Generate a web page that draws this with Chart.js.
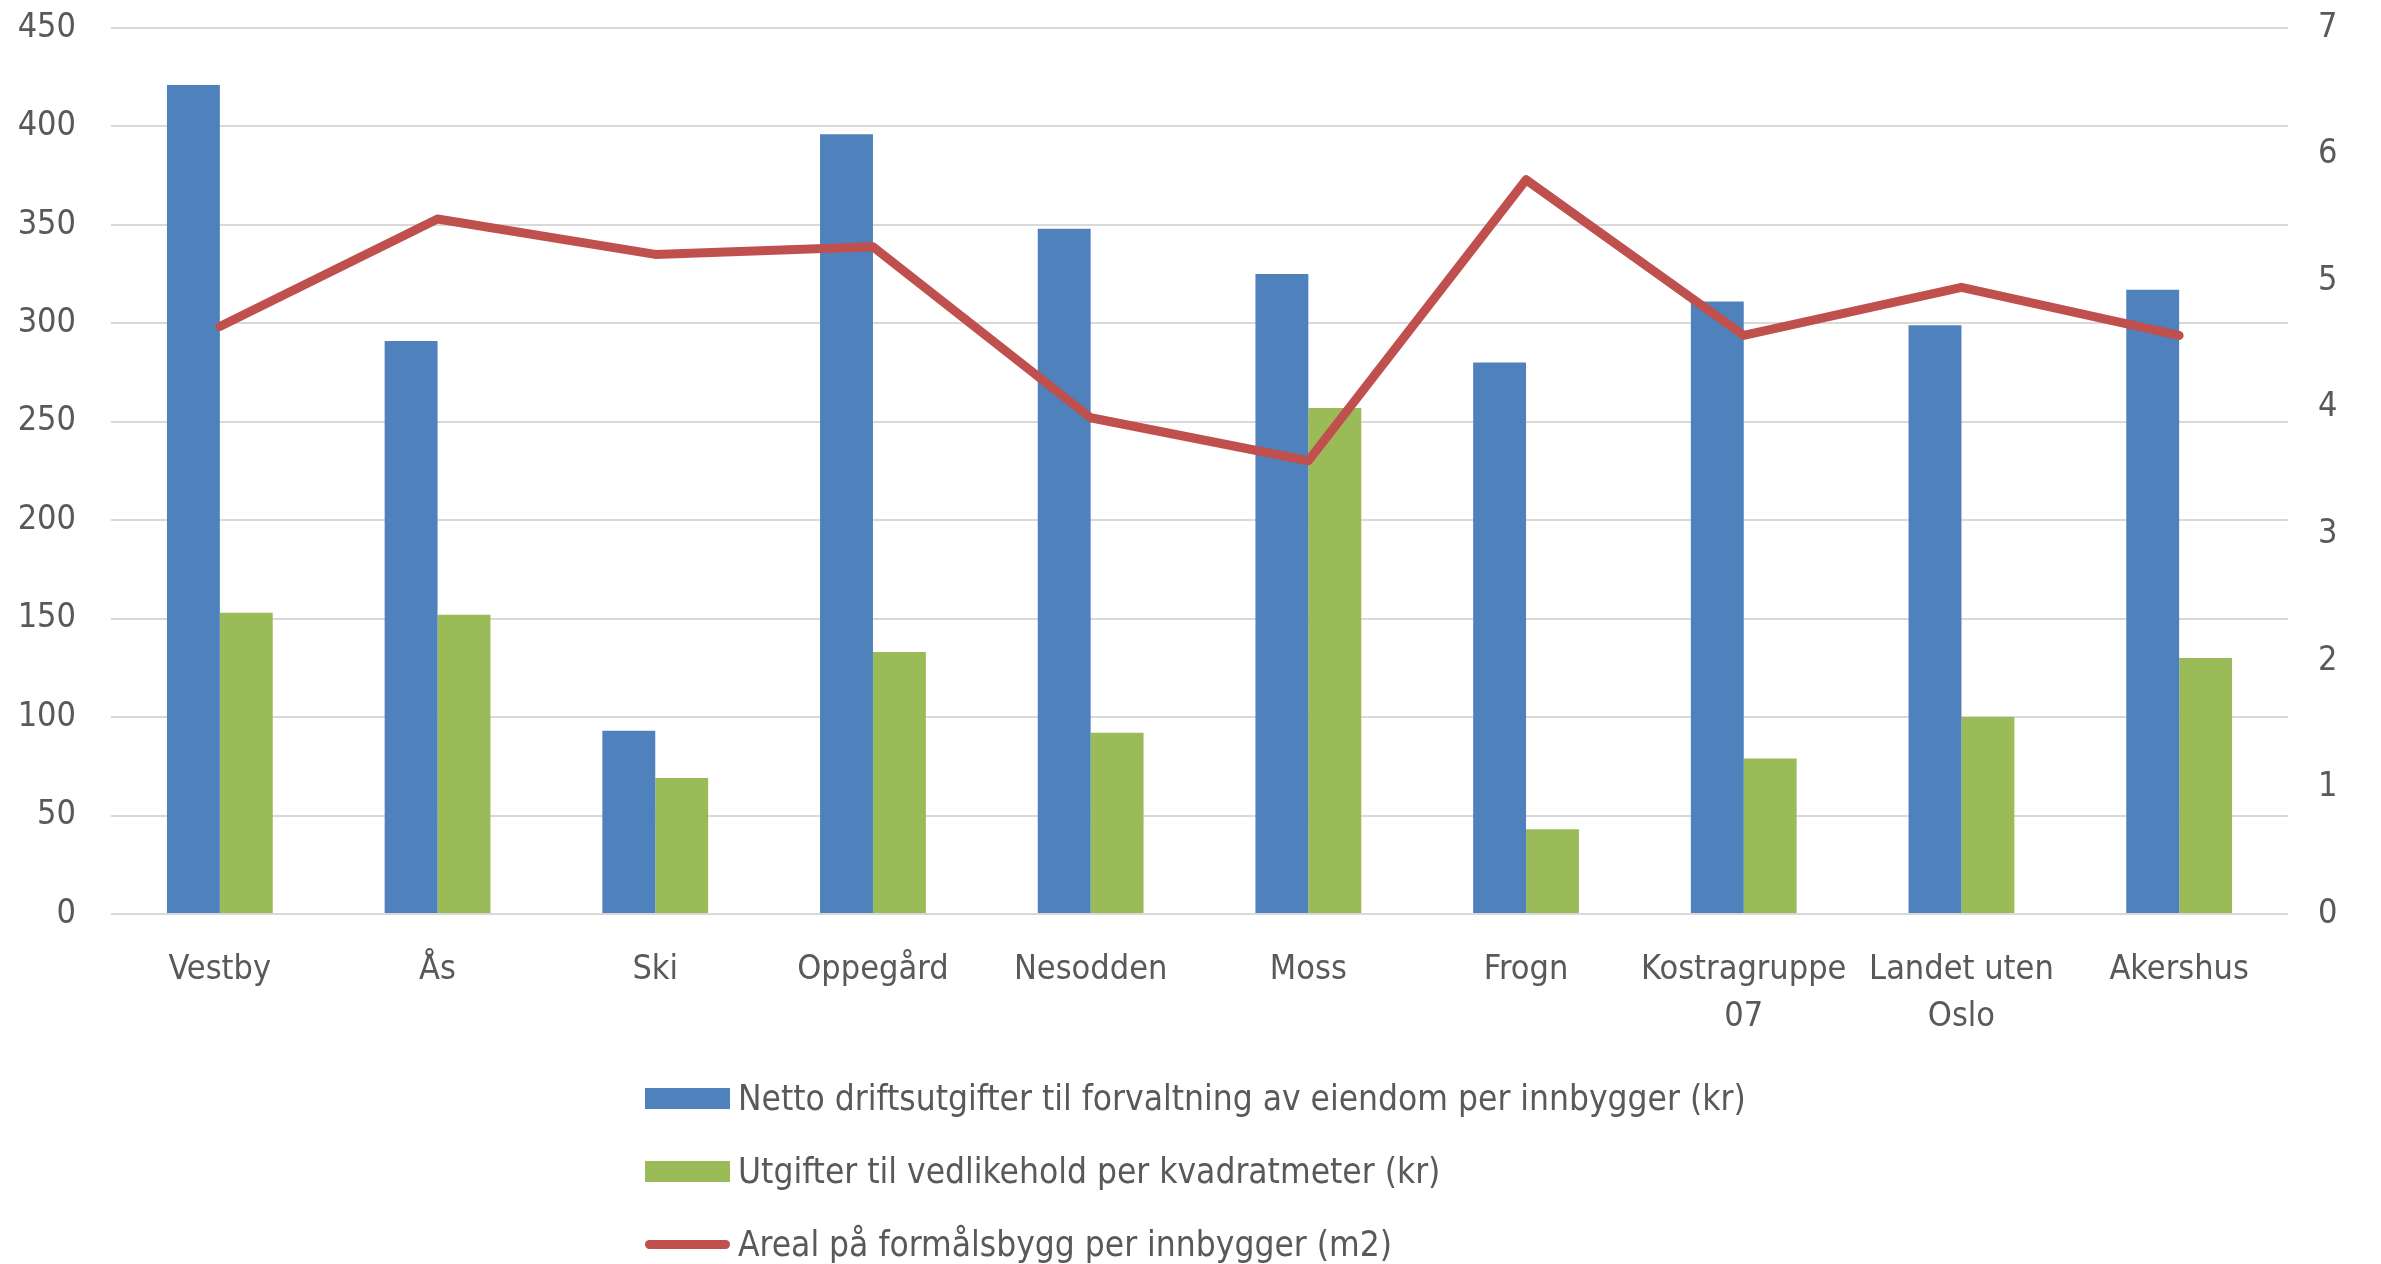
<!DOCTYPE html>
<html>
<head>
<meta charset="utf-8">
<script src="https://cdn.jsdelivr.net/npm/chart.js@4/dist/chart.umd.min.js"></script>
<style>
  body { margin: 0; background: #fff; }
  .wrap { position: relative; width: 2381px; height: 1264px; overflow: hidden; }
  .plot { position: absolute; left: 0; top: -31px; width: 2381px; height: 1295px; }
  .legend { position: absolute; left: 645px; top: 1075px; font-family: 'Liberation Sans Narrow', 'DejaVu Sans Condensed', sans-serif; font-size: 35px; color: #595959; }
  .legend div { display: flex; align-items: center; height: 46px; margin-bottom: 27px; white-space: nowrap; }
  .legend span.key { display: inline-block; width: 85px; margin-right: 8px; }
</style>
</head>
<body>
<div class="wrap">
  <div class="plot"><canvas id="myChart"></canvas></div>
  <div class="legend" id="legend"></div>
</div>
<script>
const categories = ['Vestby', 'Ås', 'Ski', 'Oppegård', 'Nesodden', 'Moss', 'Frogn', ['Kostragruppe', '07'], ['Landet uten', 'Oslo'], 'Akershus'];
const driftsutgifter = [421, 291, 93, 396, 348, 325, 280, 311, 299, 317];
const vedlikehold = [153, 152, 69, 133, 92, 257, 43, 79, 100, 130];
const areal = [4.64, 5.49, 5.21, 5.27, 3.92, 3.58, 5.80, 4.57, 4.95, 4.57];
const leftTicks = { min: 0, max: 450, step: 50 };
const rightTicks = { min: 0, max: 7, step: 1 };

const font = { family: "'Liberation Sans Narrow', 'DejaVu Sans Condensed', sans-serif", size: 34, lineHeight: 1.4 };
Chart.defaults.font = font;
Chart.defaults.color = '#595959';

const chart = new Chart(document.getElementById('myChart'), {
    type: 'bar',
    data: {
        labels: categories,
        datasets: [
            {
                label: 'Netto driftsutgifter til forvaltning av eiendom per innbygger (kr)',
                data: driftsutgifter,
                backgroundColor: '#4F81BD',
                yAxisID: 'y',
                order: 1
            },
            {
                label: 'Utgifter til vedlikehold per kvadratmeter (kr)',
                data: vedlikehold,
                backgroundColor: '#9BBB59',
                yAxisID: 'y',
                order: 1
            },
            {
                type: 'line',
                label: 'Areal på formålsbygg per innbygger (m2)',
                data: areal,
                borderColor: '#C0504D',
                backgroundColor: '#C0504D',
                borderWidth: 9,
                borderCapStyle: 'round',
                borderJoinStyle: 'round',
                pointRadius: 0,
                tension: 0,
                yAxisID: 'y1',
                order: 0
            }
        ]
    },
    options: {
        responsive: true,
        maintainAspectRatio: false,
        animation: false,
        layout: { padding: 0 },
        datasets: { bar: { categoryPercentage: 0.486, barPercentage: 1 } },
        plugins: { legend: { display: false }, tooltip: { enabled: false } },
        scales: {
            x: {
                grid: { display: false },
                border: { display: false },
                ticks: { padding: 24, maxRotation: 0, autoSkip: false },
                afterFit: (s) => { s.height = 350; }
            },
            y: {
                position: 'left',
                min: leftTicks.min,
                max: leftTicks.max,
                ticks: { stepSize: leftTicks.step, padding: 35 },
                grid: { color: '#D9D9D9', lineWidth: 2, drawTicks: false },
                border: { display: false },
                afterFit: (s) => { s.width = 111; }
            },
            y1: {
                position: 'right',
                min: rightTicks.min,
                max: rightTicks.max,
                ticks: { stepSize: rightTicks.step, padding: 22 },
                grid: { display: false },
                border: { display: false },
                afterFit: (s) => { s.width = 93; }
            }
        }
    }
});

// legend stacked vertically like the original
const legend = document.getElementById('legend');
chart.data.datasets.forEach((ds) => {
    const row = document.createElement('div');
    const key = document.createElement('span');
    key.className = 'key';
    if (ds.type === 'line') {
        key.style.height = '9px';
        key.style.borderRadius = '5px';
    } else {
        key.style.height = '21px';
    }
    key.style.background = ds.backgroundColor;
    row.appendChild(key);
    row.appendChild(document.createTextNode(ds.label));
    legend.appendChild(row);
});
</script>
</body>
</html>
